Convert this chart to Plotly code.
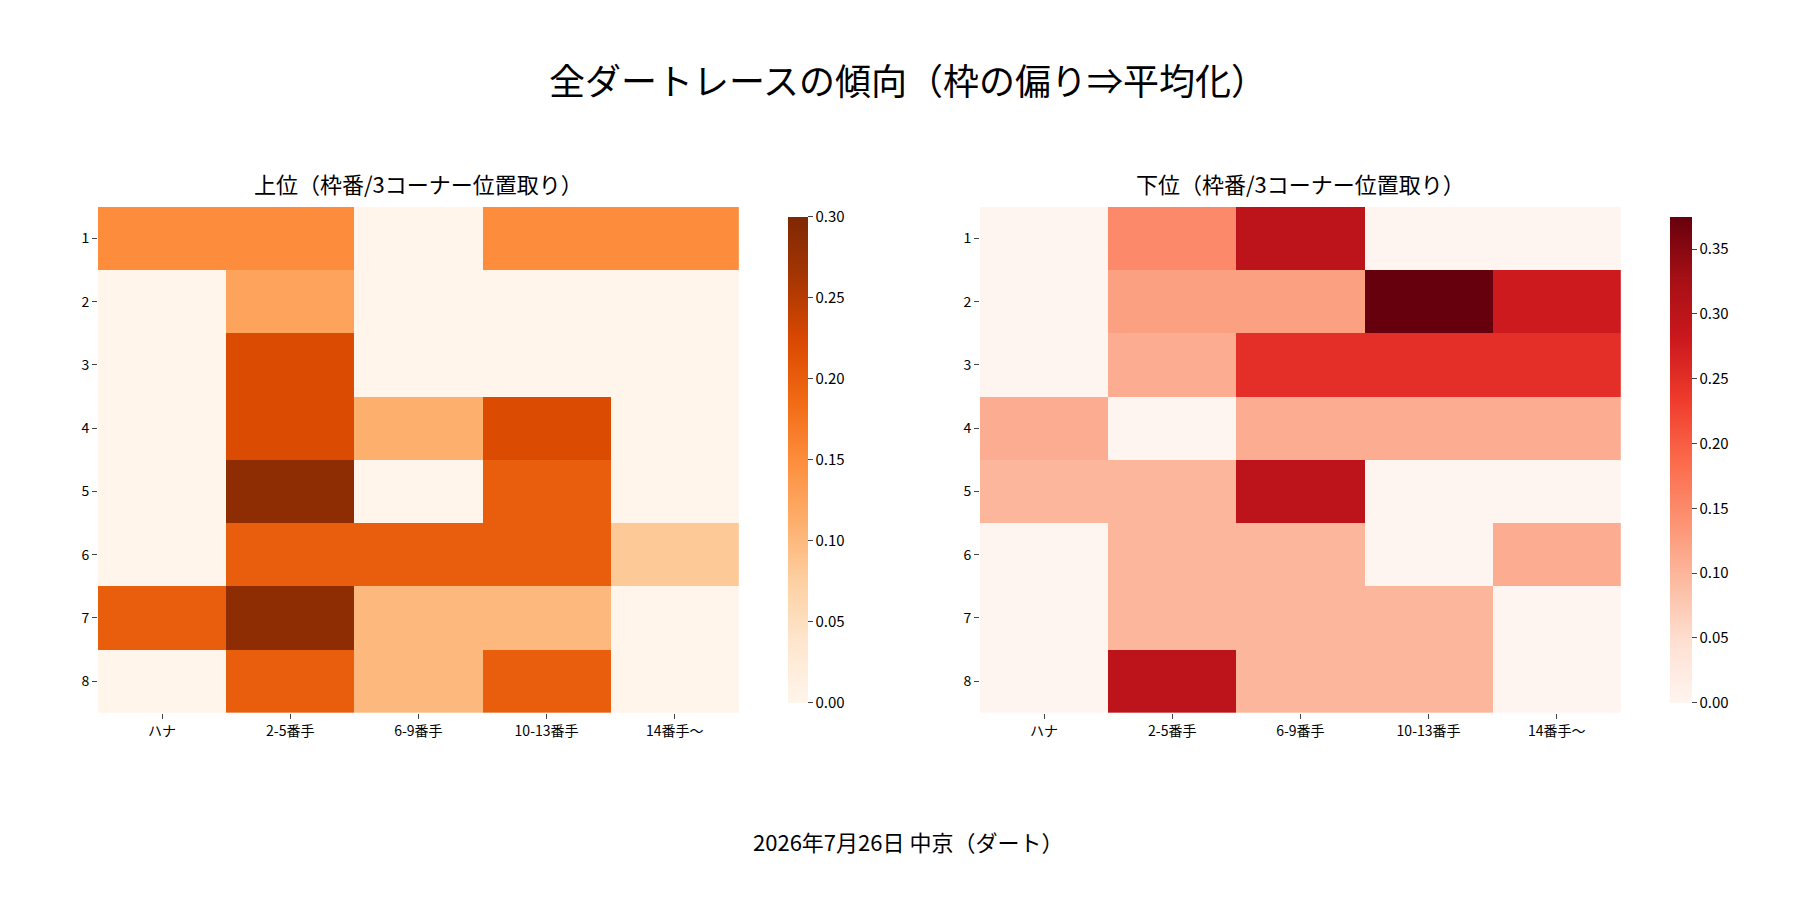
import plotly.graph_objects as go

cols = ["ハナ", "2-5番手", "6-9番手", "10-13番手", "14番手〜"]
rows = ["1", "2", "3", "4", "5", "6", "7", "8"]

top_vals = [
    [0.15, 0.15, 0.0, 0.15, 0.15],
    [0.0, 0.125, 0.0, 0.0, 0.0],
    [0.0, 0.222, 0.0, 0.0, 0.0],
    [0.0, 0.222, 0.111, 0.222, 0.0],
    [0.0, 0.286, 0.0, 0.2, 0.0],
    [0.0, 0.2, 0.2, 0.2, 0.083],
    [0.2, 0.286, 0.1, 0.1, 0.0],
    [0.0, 0.2, 0.1, 0.2, 0.0],
]
low_vals = [
    [0.0, 0.15, 0.3, 0.0, 0.0],
    [0.0, 0.125, 0.125, 0.375, 0.278],
    [0.0, 0.111, 0.25, 0.25, 0.25],
    [0.111, 0.0, 0.111, 0.111, 0.111],
    [0.1, 0.1, 0.3, 0.0, 0.0],
    [0.0, 0.1, 0.1, 0.0, 0.111],
    [0.0, 0.1, 0.1, 0.1, 0.0],
    [0.0, 0.3, 0.1, 0.1, 0.0],
]

font = "Noto Sans CJK JP"
fig = go.Figure()
fig.add_trace(go.Heatmap(z=top_vals, x=cols, y=rows, colorscale="Oranges", zmin=0, zmax=0.30,
                         xaxis="x", yaxis="y",
                         colorbar=dict(x=0.428, xanchor="left", y=0.217, yanchor="bottom", len=0.562,
                                       lenmode="fraction", thickness=20, outlinewidth=0,
                                       tickvals=[0, 0.05, 0.1, 0.15, 0.2, 0.25, 0.3],
                                       tickformat=".2f", ticks="outside", tickfont=dict(size=15))))
fig.add_trace(go.Heatmap(z=low_vals, x=cols, y=rows, colorscale="Reds", zmin=0, zmax=0.375,
                         xaxis="x2", yaxis="y2",
                         colorbar=dict(x=0.918, xanchor="left", y=0.217, yanchor="bottom", len=0.562,
                                       lenmode="fraction", thickness=22, outlinewidth=0,
                                       tickvals=[0, 0.05, 0.1, 0.15, 0.2, 0.25, 0.3, 0.35],
                                       tickformat=".2f", ticks="outside", tickfont=dict(size=15))))

ax = dict(showgrid=False, zeroline=False, ticks="outside", tickfont=dict(size=14))
fig.update_layout(
    width=1800, height=900, plot_bgcolor="white", paper_bgcolor="white",
    font=dict(family=font, color="black"),
    title=dict(text="全ダートレースの傾向（枠の偏り⇒平均化）", x=0.5, y=0.917, xanchor="center",
               yanchor="middle", font=dict(size=36)),
    xaxis=dict(domain=[0.05, 0.406], **ax),
    yaxis=dict(domain=[0.217, 0.779], autorange="reversed", **ax),
    xaxis2=dict(domain=[0.54, 0.896], anchor="y2", **ax),
    yaxis2=dict(domain=[0.217, 0.779], anchor="x2", autorange="reversed", **ax),
    margin=dict(l=0, r=0, t=0, b=0),
    annotations=[
        dict(text="上位（枠番/3コーナー位置取り）", x=0.228, y=0.785, xref="paper", yref="paper",
             xanchor="center", yanchor="bottom", showarrow=False, font=dict(size=22)),
        dict(text="下位（枠番/3コーナー位置取り）", x=0.718, y=0.785, xref="paper", yref="paper",
             xanchor="center", yanchor="bottom", showarrow=False, font=dict(size=22)),
        dict(text="2026年7月26日 中京（ダート）", x=0.5, y=0.074, xref="paper", yref="paper",
             xanchor="center", yanchor="middle", showarrow=False, font=dict(size=22)),
    ],
)
fig.write_html("out.html")
